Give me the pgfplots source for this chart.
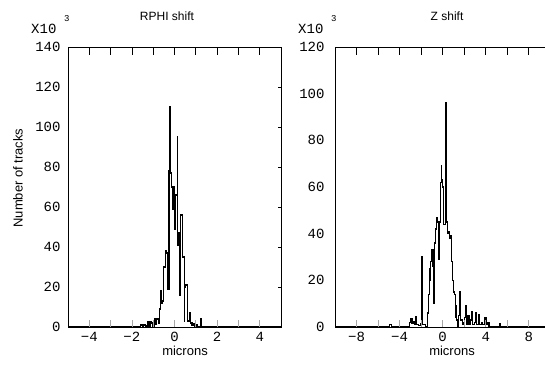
\documentclass[border=0pt]{standalone}
\usepackage{fontspec}
\setmainfont{Liberation Sans}
\newfontfamily\mono{Liberation Mono}
\usepackage{pgfplots}
\pgfplotsset{compat=1.18}
\pgfplotsset{
  base/.style={scale only axis, height=280pt, ymin=0, anchor=south west,
    axis line style={black, line width=0.8pt},
    tick label style={font=\mono\fontsize{14}{14}\selectfont},
    xticklabel style={yshift=-2pt},
    /pgf/number format/assume math mode=true},
  ghost/.style={base, axis line style={draw=none}, xticklabels={}, yticklabels={}},
  leftp/.style={at={(68pt,41pt)}, width=213pt, xmin=-5, xmax=5, ymax=140},
  rightp/.style={at={(335pt,41pt)}, width=210pt, xmin=-10, xmax=9.5, ymax=120},
}
\begin{document}
\begin{tikzpicture}
\useasboundingbox (0pt,0pt) rectangle (545pt,368pt);
% ---------- left panel ----------
\begin{axis}[base, leftp,
  xtick={-4,-2,0,2,4}, xticklabels={−4,−2,0,2,4},
  ytick={0,20,...,140}, yticklabel pos=left, yticklabel style={xshift=-4pt},
  major tick length=0pt, minor tick length=0pt]
\addplot[const plot, black, line width=1.1pt] coordinates {
(-5,0) (-1.60,1) (-1.52,0) (-1.45,1) (-1.35,0.5) (-1.28,2.5) (-1.22,0.5) (-1.15,2.5) (-1.08,2) (-1.02,0.5)
(-0.93,4) (-0.88,1.5) (-0.84,4) (-0.76,2) (-0.72,9) (-0.66,18) (-0.60,12) (-0.55,13) (-0.50,30) (-0.44,38)
(-0.36,37) (-0.31,19) (-0.26,78) (-0.22,110) (-0.17,77) (-0.12,70) (-0.09,59) (-0.06,70) (-0.01,49) (0.04,66)
(0.12,95) (0.16,41) (0.19,47) (0.24,16) (0.29,56) (0.37,35) (0.45,3) (0.49,20) (0.53,21) (0.60,3)
(0.70,7) (0.76,2) (0.82,1) (0.88,1.5) (0.95,0.5) (1.02,1) (1.10,0.3) (1.20,4) (1.27,0) (5,0)};
\end{axis}
\begin{axis}[ghost, leftp, xtick={-4,-2,...,4}, minor xtick={-3,-1,1,3},
  xtick pos=upper, ytick=\empty, major tick length=8pt, minor tick length=8pt,
  tick style={black, line width=0.8pt}]
\end{axis}
\begin{axis}[ghost, leftp, xtick={-4,-2,...,4}, minor xtick={-3,-1,1,3},
  xtick pos=lower, ytick=\empty, major tick length=7pt, minor tick length=7pt,
  tick style={gray!70, line width=0.8pt}]
\end{axis}
\begin{axis}[ghost, leftp, xtick=\empty, ytick={0,20,...,140},
  ytick pos=right, major tick length=3pt, tick style={black, line width=0.8pt}]
\end{axis}
% ---------- right panel ----------
\begin{axis}[base, rightp,
  xtick={-8,-4,0,4,8}, xticklabels={−8,−4,0,4,8},
  ytick={0,20,...,120}, yticklabel pos=left, yticklabel style={xshift=-7pt},
  major tick length=0pt, minor tick length=0pt]
\addplot[const plot, black, line width=1.1pt] coordinates {
(-10,0) (-4.9,1.2) (-4.75,0) (-3.05,2) (-2.95,3.5) (-2.85,1.5) (-2.75,2.5) (-2.62,1) (-2.52,4.5) (-2.42,1)
(-2.25,0.5) (-2.05,1.5) (-1.95,30) (-1.85,1) (-1.6,0) (-1.45,2) (-1.38,6) (-1.32,14) (-1.25,20) (-1.18,25)
(-1.10,28) (-1.02,33) (-0.95,26) (-0.88,33) (-0.82,10) (-0.76,36) (-0.68,42) (-0.60,47) (-0.45,45) (-0.35,29)
(-0.28,45) (-0.22,62) (-0.15,69) (-0.08,63) (0.0,60) (0.10,44) (0.22,96) (0.36,45) (0.45,40) (0.55,41)
(0.62,38) (0.72,39) (0.82,28) (0.90,20) (0.98,15) (1.08,14) (1.15,4) (1.22,9) (1.30,3) (1.40,0)
(1.50,5) (1.60,15) (1.68,3) (1.80,1) (1.92,2) (2.05,4) (2.15,9) (2.25,1) (2.35,5) (2.45,1)
(2.55,3) (2.70,6.5) (2.80,1) (2.95,2) (3.05,6) (3.15,1) (3.30,5.5) (3.40,1) (3.60,2) (3.72,1)
(3.90,4) (4.02,1) (4.20,2) (4.30,0) (5.25,1.5) (5.35,0) (9.5,0)};
\end{axis}
\begin{axis}[ghost, rightp, xtick={-8,-4,...,8}, minor xtick={-6,-2,2,6},
  xtick pos=upper, ytick=\empty, major tick length=8pt, minor tick length=8pt,
  tick style={black, line width=0.8pt}]
\end{axis}
\begin{axis}[ghost, rightp, xtick={-8,-4,...,8}, minor xtick={-6,-2,2,6},
  xtick pos=lower, ytick=\empty, major tick length=7pt, minor tick length=7pt,
  tick style={gray!70, line width=0.8pt}]
\end{axis}
% ---------- texts ----------
\node[font=\fontsize{12}{12}\selectfont] at (167pt,352pt) {RPHI shift};
\node[font=\fontsize{12}{12}\selectfont] at (447pt,352pt) {Z shift};
\node[font=\fontsize{13}{13}\selectfont] at (185pt,17pt) {microns};
\node[font=\fontsize{13}{13}\selectfont] at (452pt,17pt) {microns};
\node[font=\fontsize{13}{13}\selectfont, rotate=90] at (18pt,190pt) {Number of tracks};
\node[font=\mono\fontsize{14}{14}\selectfont, anchor=west, inner sep=0pt] at (31pt,339pt) {X10};
\node[font=\mono\fontsize{9}{9}\selectfont, anchor=west, inner sep=0pt] at (64pt,349pt) {3};
\node[font=\mono\fontsize{14}{14}\selectfont, anchor=west, inner sep=0pt] at (298pt,339pt) {X10};
\node[font=\mono\fontsize{9}{9}\selectfont, anchor=west, inner sep=0pt] at (331pt,349pt) {3};
\end{tikzpicture}
\end{document}
